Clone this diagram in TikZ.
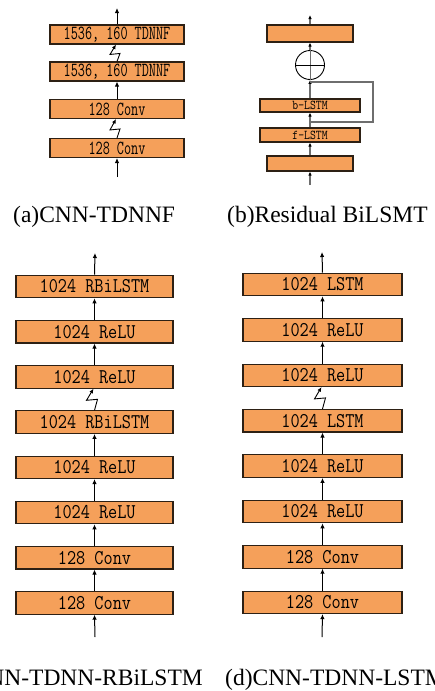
\documentclass[tikz,border=0pt]{standalone}
\usepackage{fontspec}
\setmainfont{Liberation Serif}
\newfontfamily\boxfont[FakeStretch=0.845]{Latin Modern Mono}
\newfontfamily\boxfonta[FakeStretch=0.69]{Latin Modern Mono}
\usetikzlibrary{arrows.meta}
\definecolor{boxfill}{RGB}{245,160,90}
\definecolor{boxline}{RGB}{45,32,20}
\definecolor{lgray}{RGB}{110,110,110}
\begin{document}
\begin{tikzpicture}[x=1pt,y=-1pt,
  layer/.style={draw=boxline, fill=boxfill, line width=1.1pt, inner sep=0pt},
  boxa/.style={layer, minimum width=134pt, minimum height=19pt, font=\boxfonta\fontsize{20}{20}\selectfont},
  boxb/.style={layer, minimum width=#1, font=\boxfont\fontsize{13.5}{14}\selectfont},
  boxc/.style={layer, minimum width=157pt, minimum height=22.5pt, font=\boxfont\fontsize{21}{21}\selectfont},
  boxd/.style={layer, minimum width=159pt, minimum height=22.5pt, font=\boxfont\fontsize{21}{21}\selectfont},
  arr/.style={-{Latex[length=5pt,width=4.5pt]}, line width=1pt, black},
  garr/.style={-{Latex[length=4pt,width=3.5pt,color=black]}, line width=1.3pt, lgray},
  gline/.style={line width=1.3pt, lgray},
  zz/.style={-{Latex[length=4.5pt,width=4pt]}, line width=0.9pt, black},
  captext/.style={font=\fontsize{23.5}{24}\selectfont, inner sep=0pt}
]
\useasboundingbox (0,0) rectangle (435,691);
\clip (0,0) rectangle (435,691);

% ---------- (a) ----------
\node[boxa] (a1) at (117,34.5) {1536, 160 TDNNF};
\node[boxa] (a2) at (117,71.5) {1536, 160 TDNNF};
\node[boxa] (a3) at (117,109) {128 Conv};
\node[boxa] (a4) at (117,148) {128 Conv};
\coordinate (ain) at (117,177);
\coordinate (aout) at (117,8);
\draw[arr] (a1.north) -- (aout);
\draw[zz] (a2.north) -- ++(3,-8) -- ++(-10,1) -- ([xshift=-1pt]a1.south);
\draw[arr] (a3.north) -- (a2.south);
\draw[zz] (a4.north) -- ++(3,-9) -- ++(-10,1) -- ([xshift=-1pt]a3.south);
\draw[arr] (ain) -- (a4.south);
\node[captext, anchor=base west] (capa) at (13,222) {(a)CNN-TDNNF};

% ---------- (b) ----------
\node[boxb=86pt, minimum height=17pt] (b1) at (310,33.5) {};
\node[circle, draw=black, line width=0.9pt, minimum size=29pt, inner sep=0pt] (sum) at (310,65) {};
\draw[line width=0.9pt, lgray] (sum.north) -- (sum.south);
\draw[line width=0.9pt, black] (sum.west) -- (sum.east);
\node[boxb=100pt, minimum height=13pt] (bb) at (310,105.5) {b-LSTM};
\node[boxb=100pt, minimum height=14pt] (bf) at (310,135) {f-LSTM};
\node[boxb=86pt, minimum height=15pt] (b0) at (310,163.5) {};
\coordinate (bout) at (310,15);
\coordinate (bin) at (310,185);
\coordinate (fb) at (310,122);
\coordinate (join) at (310,82);
\draw[garr] (b1.north) -- (bout);
\draw[garr] (sum.north) -- (b1.south);
\draw[garr] (bb.north) -- (sum.south);
\draw[garr] (bf.north) -- (bb.south);
\draw[garr] (b0.north) -- (bf.south);
\draw[garr] (bin) -- (b0.south);
\draw[gline] (fb) -- ++(63,0) |- (join);
\node[captext, anchor=base west] (capb) at (227,222) {(b)Residual BiLSMT};

% ---------- (c) ----------
\foreach \n/\y/\t in {1/286.5/1024 RBiLSTM, 2/331.7/1024 ReLU, 3/376.9/1024 ReLU, 4/422.1/1024 RBiLSTM,
                      5/467.3/1024 ReLU, 6/512.5/1024 ReLU, 7/557.7/128 Conv, 8/602.9/128 Conv}
  \node[boxc] (c\n) at (94.5,\y) {\t};
\coordinate (cout) at (95,253);
\coordinate (cin) at (95,637);
\draw[arr] (c1.north) -- (cout);
\draw[arr] (c2.north) -- (c1.south);
\draw[arr] (c3.north) -- (c2.south);
\draw[zz] (c4.north) -- ++(3,-11) -- ++(-11,1) -- ([xshift=-1pt]c3.south);
\draw[arr] (c5.north) -- (c4.south);
\draw[arr] (c6.north) -- (c5.south);
\draw[arr] (c7.north) -- (c6.south);
\draw[arr] (c8.north) -- (c7.south);
\draw[arr] (cin) -- (c8.south);
\node[captext, anchor=base east] (capc) at (203,685) {(c)CNN-TDNN-RBiLSTM};

% ---------- (d) ----------
\foreach \n/\y/\t in {1/284.5/1024 LSTM, 2/329.9/1024 ReLU, 3/375.3/1024 ReLU, 4/420.7/1024 LSTM,
                      5/466.1/1024 ReLU, 6/511.5/1024 ReLU, 7/556.9/128 Conv, 8/602.3/128 Conv}
  \node[boxd] (d\n) at (322.5,\y) {\t};
\coordinate (dout) at (322,252);
\coordinate (din) at (322,637);
\draw[arr] (d1.north) -- (dout);
\draw[arr] (d2.north) -- (d1.south);
\draw[arr] (d3.north) -- (d2.south);
\draw[zz] (d4.north) -- ++(3,-11) -- ++(-11,1) -- ([xshift=-1pt]d3.south);
\draw[arr] (d5.north) -- (d4.south);
\draw[arr] (d6.north) -- (d5.south);
\draw[arr] (d7.north) -- (d6.south);
\draw[arr] (d8.north) -- (d7.south);
\draw[arr] (din) -- (d8.south);
\node[captext, anchor=base west] (capd) at (225,685) {(d)CNN-TDNN-LSTM};
\end{tikzpicture}
\end{document}
